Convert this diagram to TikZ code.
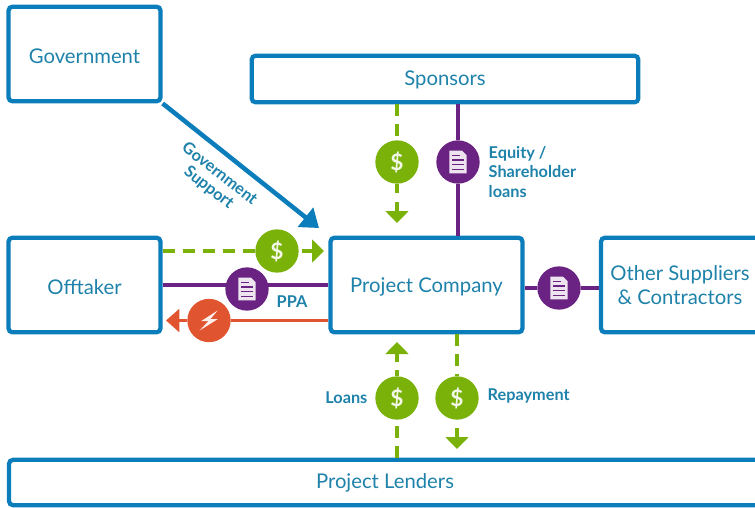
\documentclass[tikz,border=0pt]{standalone}
\usepackage{fontspec}
\setmainfont{Lato}
\usetikzlibrary{arrows.meta, positioning, calc}
\definecolor{boxBlue}{RGB}{11, 125, 187}
\definecolor{textBlue}{RGB}{30, 130, 170}
\definecolor{moneyGreen}{RGB}{122, 178, 10}
\definecolor{docPurple}{RGB}{106, 35, 130}
\definecolor{powerRed}{RGB}{224, 84, 48}

\begin{document}
\begin{tikzpicture}[
    x=0.75pt, y=-0.75pt,
    party/.style={
        rectangle,
        rounded corners=3pt,
        draw=boxBlue,
        line width=3.2pt,
        fill=white,
        text=textBlue,
        align=center,
        font=\fontsize{15.2}{18}\selectfont
    },
    tag/.style={
        text=textBlue,
        align=left,
        font=\fontsize{12.2}{14.6}\bfseries\selectfont
    },
    dot/.style={
        circle,
        minimum size=32.5pt,
        inner sep=0pt,
        text=white!90!moneyGreen,
        font=\fontsize{17}{17}\bfseries\selectfont
    },
    money/.style={dot, fill=moneyGreen},
    paper/.style={dot, fill=docPurple},
    power/.style={dot, fill=powerRed},
    cash/.style={moneyGreen, line width=3pt, dash pattern=on 9pt off 6pt},
    stub/.style={moneyGreen, line width=3pt},
    cashtip/.style={moneyGreen, line width=3pt, -{Triangle[length=9pt,width=17pt]}},
    deal/.style={docPurple, line width=2.8pt},
    docicon/.pic={
        \fill[white!88!docPurple] (-6.5pt,8.5pt) -- (3pt,8.5pt) -- (6.5pt,5pt) -- (6.5pt,-8.5pt) -- (-6.5pt,-8.5pt) -- cycle;
        \draw[docPurple, line width=0.9pt] (-4.5pt,5pt) -- (1.5pt,5pt);
        \foreach \rule in {1.5pt,-2pt,-5.5pt}
            \draw[docPurple, line width=0.9pt] (-4.5pt,\rule) -- (4.5pt,\rule);
    },
    sparkicon/.pic={
        \fill[white!90!powerRed] (6.5pt,7.5pt) -- (-6pt,-0.5pt) -- (-0.5pt,-0.5pt) -- (-7pt,-7.5pt)
            -- (6.5pt,1pt) -- (1pt,1pt) -- cycle;
    }
]
    \useasboundingbox (0,0) rectangle (755,507);

    % parties
    \node[party, minimum width=114pt, minimum height=71pt, text height=13.5pt, text depth=0pt] (gov) at (84.5,54) {Government};
    \node[party, minimum width=290pt, minimum height=35pt, text height=9pt, text depth=0pt] (sponsors) at (445,79) {Sponsors};
    \node[party, minimum width=114pt, minimum height=71pt, text height=14pt, text depth=0pt] (offtaker) at (84.5,285) {Offtaker};
    \node[party, minimum width=144pt, minimum height=71pt, text height=11pt, text depth=0pt] (company) at (426.5,285) {Project Company};
    \node[party, minimum width=118.5pt, minimum height=71pt] (others) at (680,285) {Other Suppliers\\\& Contractors};
    \node[party, minimum width=564pt, minimum height=34pt, text height=8.6pt, text depth=0pt] (lenders) at (385,482.5) {Project Lenders};

    % lines that run behind a badge
    \draw[deal] (offtaker) -- (company);

    % round badges
    \node[money] (sponsorcash) at (397,162) {\$};
    \node[paper] (equity) at (458,162) {};
    \node[money] (offcash) at (277,251) {\$};
    \node[paper] (ppa) at (247,289) {};
    \node[power] (spark) at (209,320.5) {};
    \node[paper] (supply) at (559,288) {};
    \node[money] (loancash) at (397,398) {\$};
    \node[money] (repaycash) at (457,398) {\$};
    \pic at (equity) {docicon};
    \pic at (ppa) {docicon};
    \pic at (supply) {docicon};
    \pic at (spark) {sparkicon};

    % free ends of the arrows
    \coordinate (govend) at (319,228);
    \coordinate (sponsorstub) at (397,193);
    \coordinate (sponsorgap) at (397,202);
    \coordinate (sponsorend) at (397,223);
    \coordinate (offgap) at (302,251);
    \coordinate (offend) at (324,251);
    \coordinate (sparkend) at (166,320.5);
    \coordinate (loanstub) at (397,370);
    \coordinate (loangap) at (397,362);
    \coordinate (loanend) at (397,342);
    \coordinate (repaygap) at (457,428);
    \coordinate (repayend) at (457,449);

    % connectors
    \draw[cash] (sponsors.south -| sponsorcash) -- (sponsorcash);
    \draw[stub] (sponsorcash) -- (sponsorstub);
    \draw[cashtip] (sponsorgap) -- (sponsorend);
    \draw[cash] (offtaker.east |- offcash) -- (offcash);
    \draw[cashtip] (offgap) -- (offend);
    \draw[cash] (lenders.north -| loancash) -- (loancash);
    \draw[stub] (loancash) -- (loanstub);
    \draw[cashtip] (loangap) -- (loanend);
    \draw[cash] (company.south -| repaycash) -- (repaycash);
    \draw[cashtip] (repaygap) -- (repayend);

    \draw[deal] (sponsors.south -| equity) -- (equity) -- (company.north -| equity);
    \draw[deal] (company.east |- supply) -- (supply) -- (others.west |- supply);
    \draw[powerRed, line width=2.6pt] (company.west |- spark) -- (spark);
    \draw[powerRed, line width=2.6pt, -{Triangle[length=10pt,width=17pt]}] (spark) -- (sparkend);
    \draw[boxBlue, line width=3.4pt, -{Triangle[length=13pt,width=18pt]}] (gov.south east) -- (govend);

    % labels
    \node[tag, anchor=west] (equitytag) at (484,172) {Equity /\\Shareholder\\loans};
    \node[tag, anchor=west] (ppatag) at (272,302) {PPA};
    \node[tag, anchor=east] (loanstag) at (372,398) {Loans};
    \node[tag, anchor=west] (repaytag) at (483,396) {Repayment};
    \node[tag, rotate=-38, align=center, font=\fontsize{12.2}{13}\bfseries\selectfont] (govtag) at (214,181) {Government\\Support};
\end{tikzpicture}
\end{document}
